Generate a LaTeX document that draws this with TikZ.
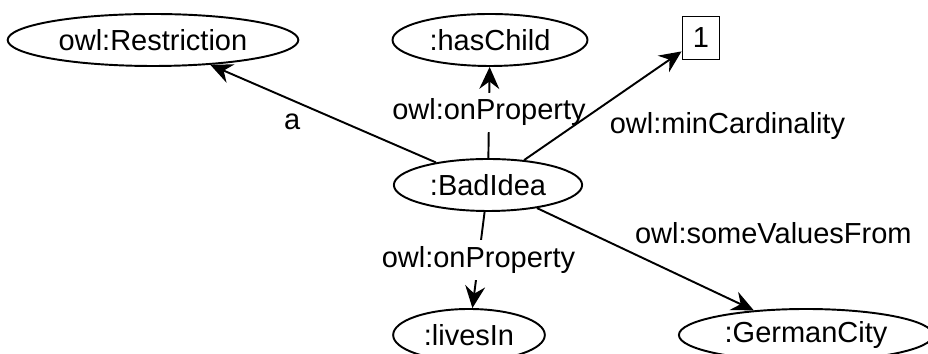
\documentclass[tikz,border=0pt]{standalone}
\usepackage{fontspec}
\setmainfont{Liberation Sans}
\usetikzlibrary{arrows.meta,shapes.geometric}

\begin{document}
\begin{tikzpicture}[
			font=\fontsize{16.5}{20}\selectfont,
			res/.style={ellipse,draw=black,line width=1.1pt,
			inner xsep=0.17cm,inner ysep=0pt,minimum height=1.04cm},
			lit/.style={rectangle,draw=black,line width=1.1pt,
			inner sep=0pt,minimum width=0.74cm,minimum height=0.86cm},
			prop/.style={>={Stealth[length=0.44cm,width=0.4cm,inset=0.15cm]},
			draw=black,line width=1.1pt,->},
			lab/.style={inner sep=0.12cm}
			]
			\useasboundingbox (0,0) rectangle (18.56,7.08);
			\node[res] (restr) at (3.06,6.28)  {owl:Restriction};
			\node[res] (child) at (9.80,6.28)  {:hasChild};
			\node[lit] (one)   at (14.02,6.32) {1};
			\node[res] (bad)   at (9.76,3.38)  {:BadIdea};
			\node[res] (lives) at (9.38,0.38)  {:livesIn};
			\node[res] (city)  at (16.12,0.38) {:GermanCity};
			% white labels cut the vertical edges
			\draw[prop] (bad) -- (child) node[lab,midway,fill=white] {owl:onProperty};
			\draw[prop] (bad) -- (lives) node[lab,midway,fill=white] {owl:onProperty};
			\draw[prop] (bad) -- (restr) node[lab,pos=0.57,below left] {a};
			\draw[prop] (bad) -- (one) node[lab,midway,anchor=north west] 
				{owl:minCardinality};
			\draw[prop] (bad) -- (city) node[lab,pos=0.42,anchor=south west] 
				{owl:someValuesFrom};
		\end{tikzpicture}
\end{document}
